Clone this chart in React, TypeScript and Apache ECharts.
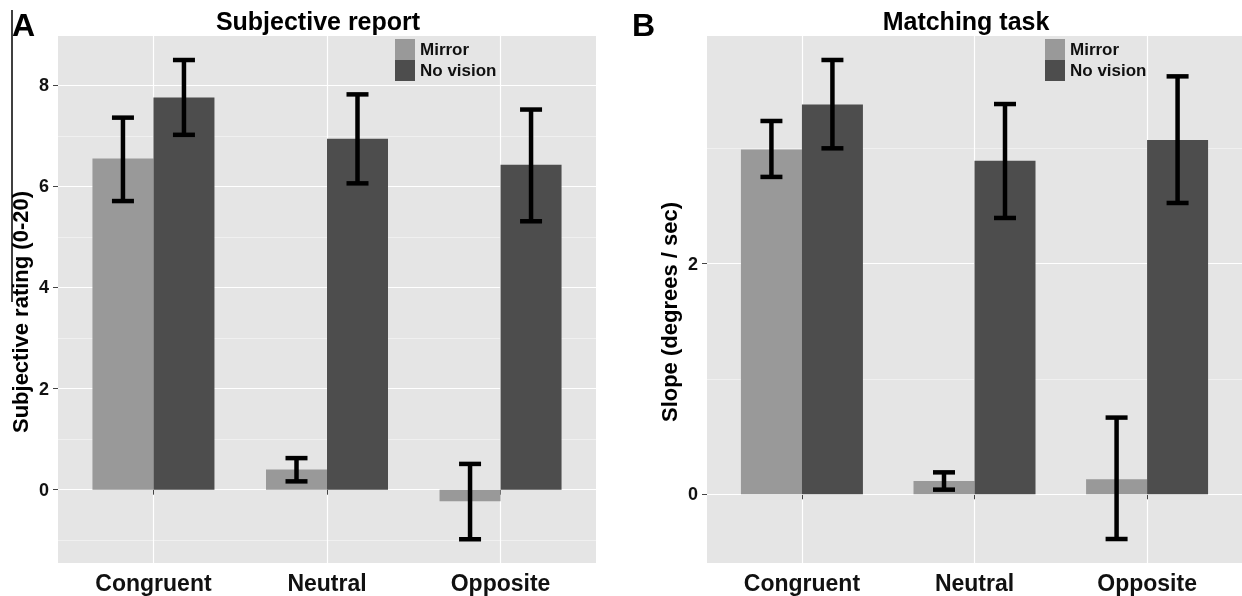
import React, { useEffect, useRef } from 'react';
import * as echarts from 'echarts';

// ---------- data ----------
const categories = ['Congruent', 'Neutral', 'Opposite'];
const seriesNames = ['Mirror', 'No vision'];

// Panel A: Subjective report (rating 0-20)
const subjMirror = [6.55, 0.40, -0.23];
const subjMirrorLow = [5.71, 0.165, -0.98];
const subjMirrorHigh = [7.36, 0.625, 0.51];
const subjNoVision = [7.76, 6.94, 6.43];
const subjNoVisionLow = [7.02, 6.06, 5.31];
const subjNoVisionHigh = [8.5, 7.82, 7.52];

// Panel B: Matching task (slope, degrees / sec)
const slopeMirror = [2.99, 0.116, 0.13];
const slopeMirrorLow = [2.752, 0.04, -0.388];
const slopeMirrorHigh = [3.237, 0.19, 0.665];
const slopeNoVision = [3.379, 2.893, 3.072];
const slopeNoVisionLow = [3.0, 2.396, 2.526];
const slopeNoVisionHigh = [3.766, 3.384, 3.624];

// axis ticks / ranges
const categoryTicks = [1, 2, 3];
const xRange = [0.45, 3.55];
const subjMajorTicks = [0, 2, 4, 6, 8];
const subjMinorTicks = [-1, 1, 3, 5, 7];
const subjRange = [-1.45, 8.975];
const slopeMajorTicks = [0, 2];
const slopeMinorTicks = [1, 3];
const slopeRange = [-0.596, 3.974];

// ---------- styles ----------
const FONT = '"Liberation Sans", Arial, Helvetica, sans-serif';
const BG = '#E5E5E5';
const MINOR = '#F0F0F0';
const COLORS = ['#999999', '#4D4D4D'];
const BAR_WIDTH = 61;
const CAP_HALF = 11;
const ERR_WIDTH = 4.5;

function makeX(gridIndex: number) {
  return {
    type: 'value',
    gridIndex,
    min: xRange[0],
    max: xRange[1],
    axisLine: { show: false },
    axisTick: { show: true, length: 5, customValues: categoryTicks, lineStyle: { color: '#444', width: 1 } },
    axisLabel: {
      customValues: categoryTicks,
      margin: 8,
      formatter: (v: number) => categories[Math.round(v) - 1] ?? '',
      fontFamily: FONT,
      fontWeight: 'bold',
      fontSize: 23,
      color: '#111',
    },
    splitLine: { show: true, lineStyle: { color: '#FFFFFF', width: 1.2 } },
  };
}

function makeYMajor(gridIndex: number, range: number[], ticks: number[]) {
  return {
    type: 'value',
    gridIndex,
    min: range[0],
    max: range[1],
    axisLine: { show: false },
    axisTick: { show: true, length: 5, customValues: ticks, lineStyle: { color: '#444', width: 1 } },
    axisLabel: {
      customValues: ticks,
      margin: 9,
      fontFamily: FONT,
      fontWeight: 'bold',
      fontSize: 18,
      color: '#111',
    },
    splitLine: { show: true, lineStyle: { color: '#FFFFFF', width: 1.2 } },
    z: 1,
  };
}

function makeYMinor(gridIndex: number, range: number[], ticks: number[]) {
  return {
    type: 'value',
    gridIndex,
    min: range[0],
    max: range[1],
    axisLine: { show: false },
    axisTick: { show: false, customValues: ticks },
    axisLabel: { show: false, customValues: ticks },
    splitLine: { show: true, lineStyle: { color: MINOR, width: 1 } },
    z: 0,
  };
}

function barSeries(name: string, values: number[], xi: number, yi: number, color: string) {
  return {
    type: 'bar',
    name,
    xAxisIndex: xi,
    yAxisIndex: yi,
    barWidth: BAR_WIDTH,
    barGap: '0%',
    itemStyle: { color },
    data: categories.map((_, i) => [i + 1, values[i]]),
    z: 2,
  };
}

function errSeries(name: string, low: number[], high: number[], dodge: number, xi: number, yi: number) {
  return {
    type: 'custom',
    name,
    xAxisIndex: xi,
    yAxisIndex: yi,
    z: 5,
    encode: { x: 0, y: [1, 2] },
    data: categories.map((_, i) => [i + 1, low[i], high[i], dodge]),
    renderItem: (params: any, api: any) => {
      const x = api.value(0);
      const pHi = api.coord([x, api.value(2)]);
      const pLo = api.coord([x, api.value(1)]);
      const cx = pHi[0] + (api.value(3) * BAR_WIDTH) / 2;
      const style = { stroke: '#000', lineWidth: ERR_WIDTH, lineCap: 'butt' };
      return {
        type: 'group',
        children: [
          { type: 'line', shape: { x1: cx, y1: pHi[1], x2: cx, y2: pLo[1] }, style },
          { type: 'line', shape: { x1: cx - CAP_HALF, y1: pHi[1], x2: cx + CAP_HALF, y2: pHi[1] }, style },
          { type: 'line', shape: { x1: cx - CAP_HALF, y1: pLo[1], x2: cx + CAP_HALF, y2: pLo[1] }, style },
        ],
      };
    },
  };
}

function legendAt(left: number) {
  return {
    data: seriesNames,
    orient: 'vertical',
    left,
    top: 39,
    padding: 0,
    itemGap: 0,
    itemWidth: 20,
    itemHeight: 21,
    icon: 'rect',
    selectedMode: false,
    textStyle: { fontFamily: FONT, fontWeight: 'bold', fontSize: 17, color: '#111' },
  };
}

function txt(text: string, x: number, y: number, size: number, align: string, rotation = 0) {
  return {
    type: 'text',
    x,
    y,
    rotation,
    silent: true,
    style: {
      text,
      fill: '#000',
      font: `bold ${size}px ${FONT}`,
      align,
      textAlign: align,
      verticalAlign: 'middle',
      textVerticalAlign: 'middle',
    },
  };
}

export default function App() {
  const ref = useRef<HTMLDivElement>(null);
  useEffect(() => {
    if (!ref.current) return;
    const chart = echarts.init(ref.current, undefined, { renderer: 'svg' });
    chart.setOption({
      animation: false,
      grid: [
        { left: 58, top: 36, width: 538, height: 527, show: true, backgroundColor: BG, borderWidth: 0 },
        { left: 707, top: 36, width: 537, height: 527, show: true, backgroundColor: BG, borderWidth: 0 },
      ],
      xAxis: [makeX(0), makeX(1)],
      yAxis: [
        makeYMajor(0, subjRange, subjMajorTicks),
        makeYMinor(0, subjRange, subjMinorTicks),
        makeYMajor(1, slopeRange, slopeMajorTicks),
        makeYMinor(1, slopeRange, slopeMinorTicks),
      ],
      legend: [legendAt(395), legendAt(1045)],
      series: [
        barSeries(seriesNames[0], subjMirror, 0, 0, COLORS[0]),
        barSeries(seriesNames[1], subjNoVision, 0, 0, COLORS[1]),
        barSeries(seriesNames[0], slopeMirror, 1, 2, COLORS[0]),
        barSeries(seriesNames[1], slopeNoVision, 1, 2, COLORS[1]),
        errSeries('Mirror SE A', subjMirrorLow, subjMirrorHigh, -1, 0, 0),
        errSeries('No vision SE A', subjNoVisionLow, subjNoVisionHigh, 1, 0, 0),
        errSeries('Mirror SE B', slopeMirrorLow, slopeMirrorHigh, -1, 1, 2),
        errSeries('No vision SE B', slopeNoVisionLow, slopeNoVisionHigh, 1, 1, 2),
      ],
      graphic: [
        { type: 'line', silent: true, shape: { x1: 12, y1: 10, x2: 12, y2: 302 }, style: { stroke: '#000', lineWidth: 1.5 } },
        txt('A', 12, 25, 32, 'left'),
        txt('B', 632, 25, 32, 'left'),
        txt('Subjective report', 318, 21, 25, 'center'),
        txt('Matching task', 966, 21, 25, 'center'),
        txt('Subjective rating (0-20)', 20, 312, 22, 'center', Math.PI / 2),
        txt('Slope (degrees / sec)', 669, 312, 22, 'center', Math.PI / 2),
      ],
    });
    return () => chart.dispose();
  }, []);
  return <div ref={ref} style={{ position: 'fixed', left: 0, top: 0, width: 1242, height: 596 }} />;
}
